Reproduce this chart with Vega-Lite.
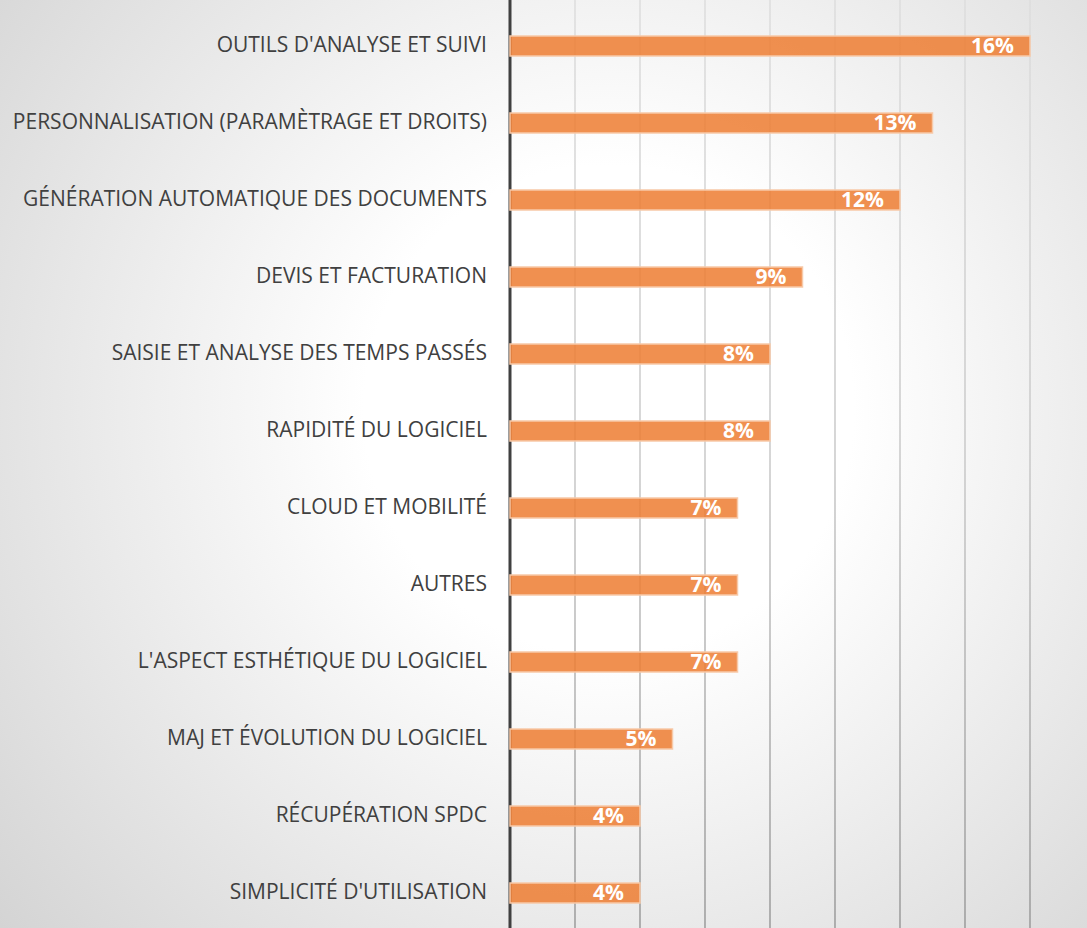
{
  "$schema": "https://vega.github.io/schema/vega-lite/v6.json",
  "width": 1087,
  "height": 928,
  "padding": 0,
  "autosize": {"type": "none"},
  "background": "#e6e6e6",
  "config": {"view": {"stroke": null}},
  "datasets": {
    "main": [
      {"categorie": "OUTILS D'ANALYSE ET SUIVI", "part": 0.16},
      {"categorie": "PERSONNALISATION (PARAMÈTRAGE ET DROITS)", "part": 0.13},
      {"categorie": "GÉNÉRATION AUTOMATIQUE DES DOCUMENTS", "part": 0.12},
      {"categorie": "DEVIS ET FACTURATION", "part": 0.09},
      {"categorie": "SAISIE ET ANALYSE DES TEMPS PASSÉS", "part": 0.08},
      {"categorie": "RAPIDITÉ DU LOGICIEL", "part": 0.08},
      {"categorie": "CLOUD ET MOBILITÉ", "part": 0.07},
      {"categorie": "AUTRES", "part": 0.07},
      {"categorie": "L'ASPECT ESTHÉTIQUE DU LOGICIEL", "part": 0.07},
      {"categorie": "MAJ ET ÉVOLUTION DU LOGICIEL", "part": 0.05},
      {"categorie": "RÉCUPÉRATION SPDC", "part": 0.04},
      {"categorie": "SIMPLICITÉ D'UTILISATION", "part": 0.04}
    ],
    "grid": [
      {"v": 0.02}, {"v": 0.04}, {"v": 0.06}, {"v": 0.08},
      {"v": 0.10}, {"v": 0.12}, {"v": 0.14}, {"v": 0.16}
    ],
    "one": [{"lo": -0.15692, "hi": 0.17754, "zero": 0}]
  },
  "data": {"name": "main"},
  "encoding": {
    "y": {
      "field": "categorie",
      "type": "nominal",
      "sort": null,
      "axis": null,
      "scale": {"paddingInner": 0.7403, "paddingOuter": 0.3961, "align": 0.59}
    }
  },
  "layer": [
    {
      "data": {"name": "one"},
      "mark": {
        "type": "rect",
        "fill": {
          "gradient": "radial",
          "x1": 0.56, "y1": 0.45, "r1": 0,
          "x2": 0.56, "y2": 0.45, "r2": 0.9,
          "stops": [
            {"offset": 0, "color": "#ffffff"},
            {"offset": 0.25, "color": "#ffffff"},
            {"offset": 1, "color": "#c6c6c6"}
          ]
        }
      },
      "encoding": {
        "y": null,
        "x": {"field": "lo", "type": "quantitative", "axis": null,
              "scale": {"domain": [-0.15692, 0.17754], "nice": false, "zero": false}},
        "x2": {"field": "hi"}
      }
    },
    {
      "data": {"name": "grid"},
      "mark": {
        "type": "rect",
        "width": 1.5,
        "fill": {
          "gradient": "linear",
          "x1": 0, "y1": 0, "x2": 0, "y2": 1,
          "stops": [
            {"offset": 0, "color": "#dddddd"},
            {"offset": 0.5, "color": "#c8c8c8"},
            {"offset": 1, "color": "#9a9a9a"}
          ]
        }
      },
      "encoding": {
        "y": null,
        "x": {"field": "v", "type": "quantitative"}
      }
    },
    {
      "data": {"name": "one"},
      "mark": {"type": "rule", "color": "#404040", "strokeWidth": 3},
      "encoding": {
        "y": null,
        "x": {"field": "zero", "type": "quantitative"}
      }
    },
    {
      "mark": {"type": "bar", "fill": "#ED7D31", "fillOpacity": 0.85, "stroke": "#f7c9a8", "strokeWidth": 1.5},
      "encoding": {
        "x": {"field": "part", "type": "quantitative"},
        "x2": {"datum": 0}
      }
    },
    {
      "mark": {"type": "text", "align": "right", "baseline": "middle", "dx": -16, "dy": 1,
               "font": "Open Sans", "fontSize": 21, "fontWeight": "bold", "fill": "#ffffff"},
      "encoding": {
        "x": {"field": "part", "type": "quantitative"},
        "text": {"field": "part", "type": "quantitative", "format": ".0%"}
      }
    },
    {
      "mark": {"type": "text", "align": "right", "baseline": "middle", "dx": -23, "dy": 0,
               "font": "Open Sans", "fontSize": 21, "fill": "#404040"},
      "encoding": {
        "x": {"datum": 0},
        "text": {"field": "categorie"}
      }
    }
  ]
}
